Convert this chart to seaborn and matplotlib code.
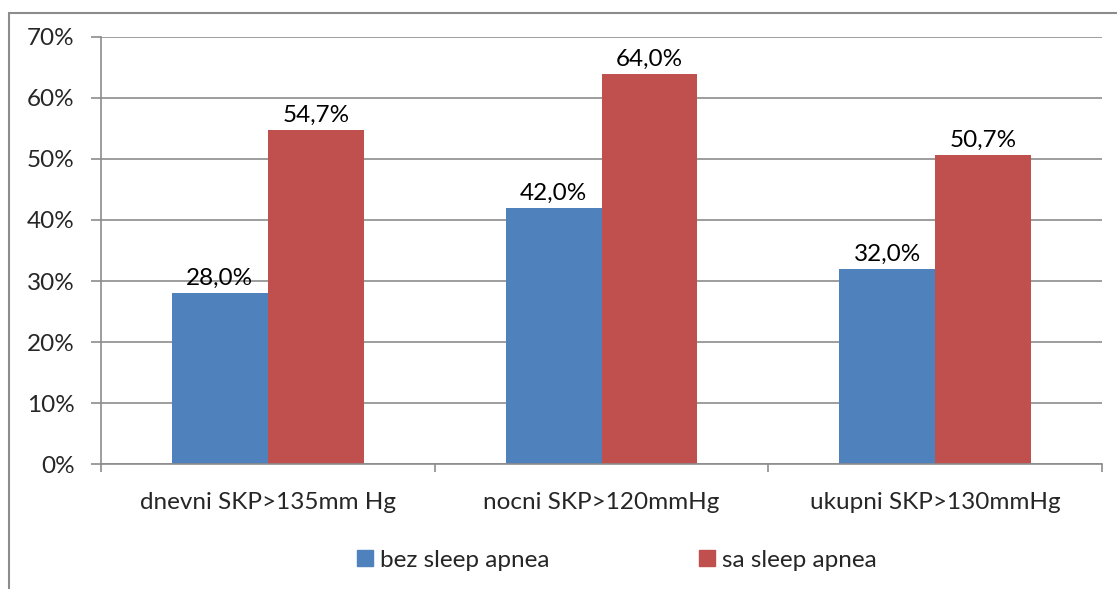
import pandas as pd
from matplotlib import pyplot as plt
import seaborn as sns
from matplotlib.lines import Line2D
from matplotlib.ticker import FixedLocator, PercentFormatter

categories = ["dnevni SKP>135mm Hg", "nocni SKP>120mmHg", "ukupni SKP>130mmHg"]
series = ["bez sleep apnea", "sa sleep apnea"]
bez_values = [28.0, 42.0, 32.0]
sa_values = [54.7, 64.0, 50.7]

sns.set_theme(style="white")
plt.rcParams["font.family"] = ["Lato", "DejaVu Sans"]
fs = 17.5

df = pd.DataFrame({
    "category": categories * 2,
    "group": [series[0]] * 3 + [series[1]] * 3,
    "value": bez_values + sa_values,
})

colors = {series[0]: "#4F81BD", series[1]: "#C0504D"}
grey = "#8C8C8C"

fig = plt.figure(figsize=(11.17, 5.89), dpi=100)
ax = fig.add_axes([0.0904, 0.2122, 0.8962, 0.725])

sns.barplot(data=df, x="category", y="value", hue="group", order=categories,
            hue_order=series, palette=colors, width=0.575, saturation=1.0,
            linewidth=0, ax=ax, legend=False)

for container in ax.containers:
    labels = [f"{b.get_height():.1f}%".replace(".", ",") for b in container]
    ax.bar_label(container, labels=labels, padding=3, fontsize=fs, color="black")

ax.set_ylim(0, 70)
ax.set_xlim(-0.5, 2.5)
ax.yaxis.set_major_locator(FixedLocator(range(0, 71, 10)))
ax.yaxis.set_major_formatter(PercentFormatter(decimals=0))
ax.set_xlabel("")
ax.set_ylabel("")

ax.grid(axis="y", color=grey, linewidth=1.2)
ax.set_axisbelow(True)
for side in ["top", "right"]:
    ax.spines[side].set_visible(False)
for side in ["left", "bottom"]:
    ax.spines[side].set_color(grey)
    ax.spines[side].set_linewidth(1.2)

ax.tick_params(axis="y", which="major", direction="out", length=7, width=1.2,
               color=grey, labelsize=fs, pad=12, left=True)
ax.tick_params(axis="x", which="major", length=0, labelsize=fs, pad=20)
ax.xaxis.set_minor_locator(FixedLocator([-0.5, 0.5, 1.5, 2.5]))
ax.tick_params(axis="x", which="minor", direction="out", length=6, width=1.2,
               color=grey, bottom=True)

handles = [Line2D([0], [0], marker="s", linestyle="", markersize=11.5,
                  color=colors[s]) for s in series]
fig.legend(handles, series, loc="center", bbox_to_anchor=(0.551, 0.049),
           ncol=2, frameon=False, fontsize=fs, handletextpad=0.2,
           columnspacing=6.0, handlelength=0.9)

# outer chart frame (cropped at right and bottom)
fig.add_artist(Line2D([0.0085, 1.0], [0.978, 0.978], transform=fig.transFigure,
                      color=grey, linewidth=1.5))
fig.add_artist(Line2D([0.0085, 0.0085], [0.0, 0.978], transform=fig.transFigure,
                      color=grey, linewidth=1.5))

plt.savefig("out.png", dpi=100)
